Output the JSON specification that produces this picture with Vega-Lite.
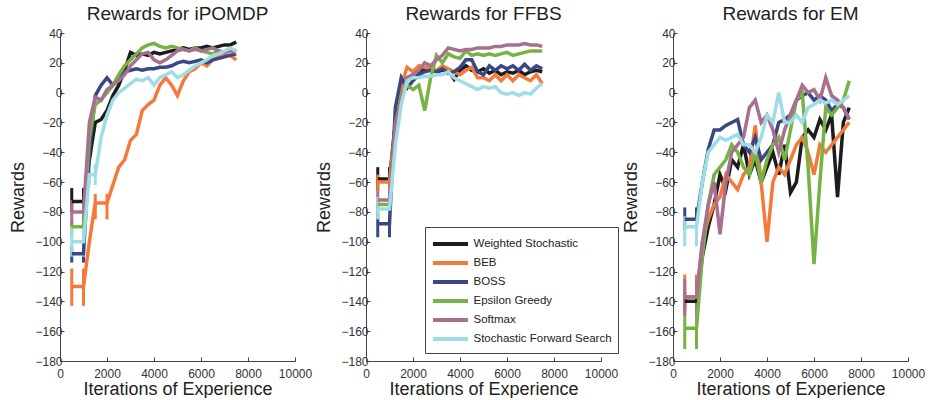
{
"$schema":"https://vega.github.io/schema/vega-lite/v6.json",
"background":"white",
"padding":{"left":9,"right":5,"top":5,"bottom":0},
"config":{
 "view":{"stroke":null},
 "font":"Liberation Sans",
 "title":{"font":"Liberation Sans","fontSize":19,"fontWeight":"normal","color":"#222","offset":3},
 "axis":{"grid":false,"domainColor":"#444","tickColor":"#444","labelColor":"#333","labelFont":"Liberation Sans","labelFontSize":12,"titleFont":"Liberation Sans","titleFontSize":18,"titleFontWeight":"normal","titleColor":"#222","tickSize":-4,"labelOverlap":false},
 "axisY":{"labelPadding":2,"titlePadding":7},
 "axisX":{"labelPadding":11,"titlePadding":1,"format":"d"},
 "legend":{"labelFont":"Liberation Sans","labelFontSize":11.5,"labelColor":"#222"}
},
"datasets":{
"pts":[
{"p":"i","s":"WS","x":500,"y":-73},{"p":"i","s":"WS","x":1000,"y":-73},{"p":"i","s":"WS","x":1250,"y":-45},{"p":"i","s":"WS","x":1500,"y":-20},{"p":"i","s":"WS","x":1750,"y":-18},{"p":"i","s":"WS","x":2000,"y":-12},{"p":"i","s":"WS","x":2250,"y":-2},{"p":"i","s":"WS","x":2500,"y":5},{"p":"i","s":"WS","x":2750,"y":15},{"p":"i","s":"WS","x":3000,"y":27},{"p":"i","s":"WS","x":3250,"y":25},{"p":"i","s":"WS","x":3500,"y":26},{"p":"i","s":"WS","x":3750,"y":25},{"p":"i","s":"WS","x":4000,"y":27},{"p":"i","s":"WS","x":4250,"y":26},{"p":"i","s":"WS","x":4500,"y":27},{"p":"i","s":"WS","x":4750,"y":28},{"p":"i","s":"WS","x":5000,"y":29},{"p":"i","s":"WS","x":5250,"y":30},{"p":"i","s":"WS","x":5500,"y":29},{"p":"i","s":"WS","x":5750,"y":30},{"p":"i","s":"WS","x":6000,"y":30},{"p":"i","s":"WS","x":6250,"y":31},{"p":"i","s":"WS","x":6500,"y":30},{"p":"i","s":"WS","x":6750,"y":31},{"p":"i","s":"WS","x":7000,"y":32},{"p":"i","s":"WS","x":7250,"y":32},{"p":"i","s":"WS","x":7500,"y":34},
{"p":"i","s":"BEB","x":500,"y":-130},{"p":"i","s":"BEB","x":1000,"y":-130},{"p":"i","s":"BEB","x":1250,"y":-100},{"p":"i","s":"BEB","x":1500,"y":-74},{"p":"i","s":"BEB","x":1750,"y":-74},{"p":"i","s":"BEB","x":2000,"y":-74},{"p":"i","s":"BEB","x":2250,"y":-62},{"p":"i","s":"BEB","x":2500,"y":-50},{"p":"i","s":"BEB","x":2750,"y":-45},{"p":"i","s":"BEB","x":3000,"y":-32},{"p":"i","s":"BEB","x":3250,"y":-28},{"p":"i","s":"BEB","x":3500,"y":-12},{"p":"i","s":"BEB","x":3750,"y":-8},{"p":"i","s":"BEB","x":4000,"y":-5},{"p":"i","s":"BEB","x":4250,"y":5},{"p":"i","s":"BEB","x":4500,"y":10},{"p":"i","s":"BEB","x":4750,"y":5},{"p":"i","s":"BEB","x":5000,"y":-2},{"p":"i","s":"BEB","x":5250,"y":8},{"p":"i","s":"BEB","x":5500,"y":14},{"p":"i","s":"BEB","x":5750,"y":16},{"p":"i","s":"BEB","x":6000,"y":20},{"p":"i","s":"BEB","x":6250,"y":18},{"p":"i","s":"BEB","x":6500,"y":22},{"p":"i","s":"BEB","x":6750,"y":24},{"p":"i","s":"BEB","x":7000,"y":25},{"p":"i","s":"BEB","x":7250,"y":25},{"p":"i","s":"BEB","x":7500,"y":22},
{"p":"i","s":"BOSS","x":500,"y":-108},{"p":"i","s":"BOSS","x":1000,"y":-108},{"p":"i","s":"BOSS","x":1250,"y":-40},{"p":"i","s":"BOSS","x":1500,"y":-2},{"p":"i","s":"BOSS","x":1750,"y":5},{"p":"i","s":"BOSS","x":2000,"y":10},{"p":"i","s":"BOSS","x":2250,"y":5},{"p":"i","s":"BOSS","x":2500,"y":10},{"p":"i","s":"BOSS","x":2750,"y":14},{"p":"i","s":"BOSS","x":3000,"y":15},{"p":"i","s":"BOSS","x":3250,"y":16},{"p":"i","s":"BOSS","x":3500,"y":15},{"p":"i","s":"BOSS","x":3750,"y":16},{"p":"i","s":"BOSS","x":4000,"y":16},{"p":"i","s":"BOSS","x":4250,"y":17},{"p":"i","s":"BOSS","x":4500,"y":17},{"p":"i","s":"BOSS","x":4750,"y":18},{"p":"i","s":"BOSS","x":5000,"y":20},{"p":"i","s":"BOSS","x":5250,"y":21},{"p":"i","s":"BOSS","x":5500,"y":20},{"p":"i","s":"BOSS","x":5750,"y":21},{"p":"i","s":"BOSS","x":6000,"y":22},{"p":"i","s":"BOSS","x":6250,"y":20},{"p":"i","s":"BOSS","x":6500,"y":22},{"p":"i","s":"BOSS","x":6750,"y":23},{"p":"i","s":"BOSS","x":7000,"y":24},{"p":"i","s":"BOSS","x":7250,"y":25},{"p":"i","s":"BOSS","x":7500,"y":26},
{"p":"i","s":"EG","x":500,"y":-90},{"p":"i","s":"EG","x":1000,"y":-90},{"p":"i","s":"EG","x":1250,"y":-30},{"p":"i","s":"EG","x":1500,"y":-8},{"p":"i","s":"EG","x":1750,"y":-5},{"p":"i","s":"EG","x":2000,"y":0},{"p":"i","s":"EG","x":2250,"y":5},{"p":"i","s":"EG","x":2500,"y":12},{"p":"i","s":"EG","x":2750,"y":18},{"p":"i","s":"EG","x":3000,"y":22},{"p":"i","s":"EG","x":3250,"y":26},{"p":"i","s":"EG","x":3500,"y":30},{"p":"i","s":"EG","x":3750,"y":32},{"p":"i","s":"EG","x":4000,"y":33},{"p":"i","s":"EG","x":4250,"y":31},{"p":"i","s":"EG","x":4500,"y":30},{"p":"i","s":"EG","x":4750,"y":31},{"p":"i","s":"EG","x":5000,"y":30},{"p":"i","s":"EG","x":5250,"y":29},{"p":"i","s":"EG","x":5500,"y":28},{"p":"i","s":"EG","x":5750,"y":30},{"p":"i","s":"EG","x":6000,"y":28},{"p":"i","s":"EG","x":6250,"y":27},{"p":"i","s":"EG","x":6500,"y":26},{"p":"i","s":"EG","x":6750,"y":28},{"p":"i","s":"EG","x":7000,"y":27},{"p":"i","s":"EG","x":7250,"y":29},{"p":"i","s":"EG","x":7500,"y":28},
{"p":"i","s":"SM","x":500,"y":-80},{"p":"i","s":"SM","x":1000,"y":-80},{"p":"i","s":"SM","x":1250,"y":-20},{"p":"i","s":"SM","x":1500,"y":-3},{"p":"i","s":"SM","x":1750,"y":-5},{"p":"i","s":"SM","x":2000,"y":2},{"p":"i","s":"SM","x":2250,"y":5},{"p":"i","s":"SM","x":2500,"y":8},{"p":"i","s":"SM","x":2750,"y":12},{"p":"i","s":"SM","x":3000,"y":18},{"p":"i","s":"SM","x":3250,"y":22},{"p":"i","s":"SM","x":3500,"y":26},{"p":"i","s":"SM","x":3750,"y":27},{"p":"i","s":"SM","x":4000,"y":22},{"p":"i","s":"SM","x":4250,"y":20},{"p":"i","s":"SM","x":4500,"y":22},{"p":"i","s":"SM","x":4750,"y":25},{"p":"i","s":"SM","x":5000,"y":28},{"p":"i","s":"SM","x":5250,"y":29},{"p":"i","s":"SM","x":5500,"y":28},{"p":"i","s":"SM","x":5750,"y":29},{"p":"i","s":"SM","x":6000,"y":28},{"p":"i","s":"SM","x":6250,"y":29},{"p":"i","s":"SM","x":6500,"y":30},{"p":"i","s":"SM","x":6750,"y":28},{"p":"i","s":"SM","x":7000,"y":27},{"p":"i","s":"SM","x":7250,"y":28},{"p":"i","s":"SM","x":7500,"y":27},
{"p":"i","s":"SFS","x":500,"y":-100},{"p":"i","s":"SFS","x":1000,"y":-100},{"p":"i","s":"SFS","x":1250,"y":-55},{"p":"i","s":"SFS","x":1500,"y":-55},{"p":"i","s":"SFS","x":1750,"y":-30},{"p":"i","s":"SFS","x":2000,"y":-15},{"p":"i","s":"SFS","x":2250,"y":-5},{"p":"i","s":"SFS","x":2500,"y":0},{"p":"i","s":"SFS","x":2750,"y":3},{"p":"i","s":"SFS","x":3000,"y":6},{"p":"i","s":"SFS","x":3250,"y":9},{"p":"i","s":"SFS","x":3500,"y":8},{"p":"i","s":"SFS","x":3750,"y":10},{"p":"i","s":"SFS","x":4000,"y":5},{"p":"i","s":"SFS","x":4250,"y":10},{"p":"i","s":"SFS","x":4500,"y":12},{"p":"i","s":"SFS","x":4750,"y":14},{"p":"i","s":"SFS","x":5000,"y":10},{"p":"i","s":"SFS","x":5250,"y":12},{"p":"i","s":"SFS","x":5500,"y":15},{"p":"i","s":"SFS","x":5750,"y":18},{"p":"i","s":"SFS","x":6000,"y":20},{"p":"i","s":"SFS","x":6250,"y":22},{"p":"i","s":"SFS","x":6500,"y":25},{"p":"i","s":"SFS","x":6750,"y":26},{"p":"i","s":"SFS","x":7000,"y":28},{"p":"i","s":"SFS","x":7250,"y":30},{"p":"i","s":"SFS","x":7500,"y":28},
{"p":"f","s":"WS","x":500,"y":-58},{"p":"f","s":"WS","x":1000,"y":-58},{"p":"f","s":"WS","x":1250,"y":-20},{"p":"f","s":"WS","x":1500,"y":8},{"p":"f","s":"WS","x":1750,"y":10},{"p":"f","s":"WS","x":2000,"y":12},{"p":"f","s":"WS","x":2250,"y":14},{"p":"f","s":"WS","x":2500,"y":16},{"p":"f","s":"WS","x":2750,"y":15},{"p":"f","s":"WS","x":3000,"y":14},{"p":"f","s":"WS","x":3250,"y":15},{"p":"f","s":"WS","x":3500,"y":15},{"p":"f","s":"WS","x":3750,"y":9},{"p":"f","s":"WS","x":4000,"y":15},{"p":"f","s":"WS","x":4250,"y":18},{"p":"f","s":"WS","x":4500,"y":15},{"p":"f","s":"WS","x":4750,"y":14},{"p":"f","s":"WS","x":5000,"y":16},{"p":"f","s":"WS","x":5250,"y":13},{"p":"f","s":"WS","x":5500,"y":15},{"p":"f","s":"WS","x":5750,"y":12},{"p":"f","s":"WS","x":6000,"y":14},{"p":"f","s":"WS","x":6250,"y":13},{"p":"f","s":"WS","x":6500,"y":15},{"p":"f","s":"WS","x":6750,"y":12},{"p":"f","s":"WS","x":7000,"y":14},{"p":"f","s":"WS","x":7250,"y":15},{"p":"f","s":"WS","x":7500,"y":14},
{"p":"f","s":"BEB","x":500,"y":-60},{"p":"f","s":"BEB","x":1000,"y":-60},{"p":"f","s":"BEB","x":1250,"y":-20},{"p":"f","s":"BEB","x":1500,"y":5},{"p":"f","s":"BEB","x":1750,"y":17},{"p":"f","s":"BEB","x":2000,"y":14},{"p":"f","s":"BEB","x":2250,"y":18},{"p":"f","s":"BEB","x":2500,"y":17},{"p":"f","s":"BEB","x":2750,"y":16},{"p":"f","s":"BEB","x":3000,"y":15},{"p":"f","s":"BEB","x":3250,"y":18},{"p":"f","s":"BEB","x":3500,"y":16},{"p":"f","s":"BEB","x":3750,"y":14},{"p":"f","s":"BEB","x":4000,"y":12},{"p":"f","s":"BEB","x":4250,"y":15},{"p":"f","s":"BEB","x":4500,"y":17},{"p":"f","s":"BEB","x":4750,"y":10},{"p":"f","s":"BEB","x":5000,"y":10},{"p":"f","s":"BEB","x":5250,"y":8},{"p":"f","s":"BEB","x":5500,"y":12},{"p":"f","s":"BEB","x":5750,"y":8},{"p":"f","s":"BEB","x":6000,"y":12},{"p":"f","s":"BEB","x":6250,"y":8},{"p":"f","s":"BEB","x":6500,"y":12},{"p":"f","s":"BEB","x":6750,"y":10},{"p":"f","s":"BEB","x":7000,"y":8},{"p":"f","s":"BEB","x":7250,"y":12},{"p":"f","s":"BEB","x":7500,"y":6},
{"p":"f","s":"BOSS","x":500,"y":-88},{"p":"f","s":"BOSS","x":1000,"y":-88},{"p":"f","s":"BOSS","x":1250,"y":-10},{"p":"f","s":"BOSS","x":1500,"y":10},{"p":"f","s":"BOSS","x":1750,"y":3},{"p":"f","s":"BOSS","x":2000,"y":8},{"p":"f","s":"BOSS","x":2250,"y":12},{"p":"f","s":"BOSS","x":2500,"y":14},{"p":"f","s":"BOSS","x":2750,"y":15},{"p":"f","s":"BOSS","x":3000,"y":14},{"p":"f","s":"BOSS","x":3250,"y":16},{"p":"f","s":"BOSS","x":3500,"y":13},{"p":"f","s":"BOSS","x":3750,"y":14},{"p":"f","s":"BOSS","x":4000,"y":17},{"p":"f","s":"BOSS","x":4250,"y":22},{"p":"f","s":"BOSS","x":4500,"y":22},{"p":"f","s":"BOSS","x":4750,"y":14},{"p":"f","s":"BOSS","x":5000,"y":12},{"p":"f","s":"BOSS","x":5250,"y":18},{"p":"f","s":"BOSS","x":5500,"y":15},{"p":"f","s":"BOSS","x":5750,"y":18},{"p":"f","s":"BOSS","x":6000,"y":16},{"p":"f","s":"BOSS","x":6250,"y":18},{"p":"f","s":"BOSS","x":6500,"y":15},{"p":"f","s":"BOSS","x":6750,"y":19},{"p":"f","s":"BOSS","x":7000,"y":15},{"p":"f","s":"BOSS","x":7250,"y":18},{"p":"f","s":"BOSS","x":7500,"y":16},
{"p":"f","s":"EG","x":500,"y":-75},{"p":"f","s":"EG","x":1000,"y":-75},{"p":"f","s":"EG","x":1250,"y":-25},{"p":"f","s":"EG","x":1500,"y":-2},{"p":"f","s":"EG","x":1750,"y":5},{"p":"f","s":"EG","x":2000,"y":2},{"p":"f","s":"EG","x":2250,"y":5},{"p":"f","s":"EG","x":2500,"y":-12},{"p":"f","s":"EG","x":2750,"y":10},{"p":"f","s":"EG","x":3000,"y":25},{"p":"f","s":"EG","x":3250,"y":20},{"p":"f","s":"EG","x":3500,"y":26},{"p":"f","s":"EG","x":3750,"y":24},{"p":"f","s":"EG","x":4000,"y":23},{"p":"f","s":"EG","x":4250,"y":28},{"p":"f","s":"EG","x":4500,"y":25},{"p":"f","s":"EG","x":4750,"y":26},{"p":"f","s":"EG","x":5000,"y":25},{"p":"f","s":"EG","x":5250,"y":26},{"p":"f","s":"EG","x":5500,"y":25},{"p":"f","s":"EG","x":5750,"y":26},{"p":"f","s":"EG","x":6000,"y":27},{"p":"f","s":"EG","x":6250,"y":25},{"p":"f","s":"EG","x":6500,"y":26},{"p":"f","s":"EG","x":6750,"y":27},{"p":"f","s":"EG","x":7000,"y":28},{"p":"f","s":"EG","x":7250,"y":28},{"p":"f","s":"EG","x":7500,"y":28},
{"p":"f","s":"SM","x":500,"y":-72},{"p":"f","s":"SM","x":1000,"y":-72},{"p":"f","s":"SM","x":1250,"y":-20},{"p":"f","s":"SM","x":1500,"y":-5},{"p":"f","s":"SM","x":1750,"y":10},{"p":"f","s":"SM","x":2000,"y":12},{"p":"f","s":"SM","x":2250,"y":15},{"p":"f","s":"SM","x":2500,"y":20},{"p":"f","s":"SM","x":2750,"y":18},{"p":"f","s":"SM","x":3000,"y":22},{"p":"f","s":"SM","x":3250,"y":25},{"p":"f","s":"SM","x":3500,"y":30},{"p":"f","s":"SM","x":3750,"y":29},{"p":"f","s":"SM","x":4000,"y":28},{"p":"f","s":"SM","x":4250,"y":29},{"p":"f","s":"SM","x":4500,"y":29},{"p":"f","s":"SM","x":4750,"y":30},{"p":"f","s":"SM","x":5000,"y":30},{"p":"f","s":"SM","x":5250,"y":30},{"p":"f","s":"SM","x":5500,"y":31},{"p":"f","s":"SM","x":5750,"y":31},{"p":"f","s":"SM","x":6000,"y":32},{"p":"f","s":"SM","x":6250,"y":32},{"p":"f","s":"SM","x":6500,"y":32},{"p":"f","s":"SM","x":6750,"y":33},{"p":"f","s":"SM","x":7000,"y":32},{"p":"f","s":"SM","x":7250,"y":32},{"p":"f","s":"SM","x":7500,"y":31},
{"p":"f","s":"SFS","x":500,"y":-78},{"p":"f","s":"SFS","x":1000,"y":-78},{"p":"f","s":"SFS","x":1250,"y":-35},{"p":"f","s":"SFS","x":1500,"y":-8},{"p":"f","s":"SFS","x":1750,"y":8},{"p":"f","s":"SFS","x":2000,"y":10},{"p":"f","s":"SFS","x":2250,"y":10},{"p":"f","s":"SFS","x":2500,"y":11},{"p":"f","s":"SFS","x":2750,"y":11},{"p":"f","s":"SFS","x":3000,"y":12},{"p":"f","s":"SFS","x":3250,"y":12},{"p":"f","s":"SFS","x":3500,"y":14},{"p":"f","s":"SFS","x":3750,"y":10},{"p":"f","s":"SFS","x":4000,"y":8},{"p":"f","s":"SFS","x":4250,"y":6},{"p":"f","s":"SFS","x":4500,"y":4},{"p":"f","s":"SFS","x":4750,"y":2},{"p":"f","s":"SFS","x":5000,"y":4},{"p":"f","s":"SFS","x":5250,"y":3},{"p":"f","s":"SFS","x":5500,"y":4},{"p":"f","s":"SFS","x":5750,"y":0},{"p":"f","s":"SFS","x":6000,"y":-1},{"p":"f","s":"SFS","x":6250,"y":0},{"p":"f","s":"SFS","x":6500,"y":-2},{"p":"f","s":"SFS","x":6750,"y":0},{"p":"f","s":"SFS","x":7000,"y":-1},{"p":"f","s":"SFS","x":7250,"y":3},{"p":"f","s":"SFS","x":7500,"y":6},
{"p":"e","s":"WS","x":500,"y":-140},{"p":"e","s":"WS","x":1000,"y":-140},{"p":"e","s":"WS","x":1250,"y":-110},{"p":"e","s":"WS","x":1500,"y":-90},{"p":"e","s":"WS","x":1750,"y":-75},{"p":"e","s":"WS","x":2000,"y":-55},{"p":"e","s":"WS","x":2250,"y":-65},{"p":"e","s":"WS","x":2500,"y":-45},{"p":"e","s":"WS","x":2750,"y":-50},{"p":"e","s":"WS","x":3000,"y":-35},{"p":"e","s":"WS","x":3250,"y":-55},{"p":"e","s":"WS","x":3500,"y":-45},{"p":"e","s":"WS","x":3750,"y":-60},{"p":"e","s":"WS","x":4000,"y":-50},{"p":"e","s":"WS","x":4250,"y":-40},{"p":"e","s":"WS","x":4500,"y":-55},{"p":"e","s":"WS","x":4750,"y":-35},{"p":"e","s":"WS","x":5000,"y":-67},{"p":"e","s":"WS","x":5250,"y":-60},{"p":"e","s":"WS","x":5500,"y":-30},{"p":"e","s":"WS","x":5750,"y":-25},{"p":"e","s":"WS","x":6000,"y":-30},{"p":"e","s":"WS","x":6250,"y":-18},{"p":"e","s":"WS","x":6500,"y":-25},{"p":"e","s":"WS","x":6750,"y":-15},{"p":"e","s":"WS","x":7000,"y":-70},{"p":"e","s":"WS","x":7250,"y":-20},{"p":"e","s":"WS","x":7500,"y":-10},
{"p":"e","s":"BEB","x":500,"y":-137},{"p":"e","s":"BEB","x":1000,"y":-137},{"p":"e","s":"BEB","x":1250,"y":-100},{"p":"e","s":"BEB","x":1500,"y":-85},{"p":"e","s":"BEB","x":1750,"y":-75},{"p":"e","s":"BEB","x":2000,"y":-70},{"p":"e","s":"BEB","x":2250,"y":-55},{"p":"e","s":"BEB","x":2500,"y":-60},{"p":"e","s":"BEB","x":2750,"y":-65},{"p":"e","s":"BEB","x":3000,"y":-55},{"p":"e","s":"BEB","x":3250,"y":-50},{"p":"e","s":"BEB","x":3500,"y":-22},{"p":"e","s":"BEB","x":3750,"y":-60},{"p":"e","s":"BEB","x":4000,"y":-100},{"p":"e","s":"BEB","x":4250,"y":-60},{"p":"e","s":"BEB","x":4500,"y":-50},{"p":"e","s":"BEB","x":4750,"y":-55},{"p":"e","s":"BEB","x":5000,"y":-45},{"p":"e","s":"BEB","x":5250,"y":-35},{"p":"e","s":"BEB","x":5500,"y":-30},{"p":"e","s":"BEB","x":5750,"y":-40},{"p":"e","s":"BEB","x":6000,"y":-55},{"p":"e","s":"BEB","x":6250,"y":-35},{"p":"e","s":"BEB","x":6500,"y":-40},{"p":"e","s":"BEB","x":6750,"y":-35},{"p":"e","s":"BEB","x":7000,"y":-30},{"p":"e","s":"BEB","x":7250,"y":-25},{"p":"e","s":"BEB","x":7500,"y":-20},
{"p":"e","s":"BOSS","x":500,"y":-85},{"p":"e","s":"BOSS","x":1000,"y":-85},{"p":"e","s":"BOSS","x":1250,"y":-60},{"p":"e","s":"BOSS","x":1500,"y":-38},{"p":"e","s":"BOSS","x":1750,"y":-25},{"p":"e","s":"BOSS","x":2000,"y":-25},{"p":"e","s":"BOSS","x":2250,"y":-22},{"p":"e","s":"BOSS","x":2500,"y":-20},{"p":"e","s":"BOSS","x":2750,"y":-18},{"p":"e","s":"BOSS","x":3000,"y":-35},{"p":"e","s":"BOSS","x":3250,"y":-40},{"p":"e","s":"BOSS","x":3500,"y":-30},{"p":"e","s":"BOSS","x":3750,"y":-45},{"p":"e","s":"BOSS","x":4000,"y":-40},{"p":"e","s":"BOSS","x":4250,"y":-35},{"p":"e","s":"BOSS","x":4500,"y":-20},{"p":"e","s":"BOSS","x":4750,"y":-18},{"p":"e","s":"BOSS","x":5000,"y":-15},{"p":"e","s":"BOSS","x":5250,"y":-5},{"p":"e","s":"BOSS","x":5500,"y":-2},{"p":"e","s":"BOSS","x":5750,"y":0},{"p":"e","s":"BOSS","x":6000,"y":-5},{"p":"e","s":"BOSS","x":6250,"y":-2},{"p":"e","s":"BOSS","x":6500,"y":-5},{"p":"e","s":"BOSS","x":6750,"y":-12},{"p":"e","s":"BOSS","x":7000,"y":-8},{"p":"e","s":"BOSS","x":7250,"y":-10},{"p":"e","s":"BOSS","x":7500,"y":-18},
{"p":"e","s":"EG","x":500,"y":-158},{"p":"e","s":"EG","x":1000,"y":-158},{"p":"e","s":"EG","x":1250,"y":-110},{"p":"e","s":"EG","x":1500,"y":-75},{"p":"e","s":"EG","x":1750,"y":-55},{"p":"e","s":"EG","x":2000,"y":-50},{"p":"e","s":"EG","x":2250,"y":-45},{"p":"e","s":"EG","x":2500,"y":-35},{"p":"e","s":"EG","x":2750,"y":-40},{"p":"e","s":"EG","x":3000,"y":-50},{"p":"e","s":"EG","x":3250,"y":-55},{"p":"e","s":"EG","x":3500,"y":-40},{"p":"e","s":"EG","x":3750,"y":-60},{"p":"e","s":"EG","x":4000,"y":-45},{"p":"e","s":"EG","x":4250,"y":-35},{"p":"e","s":"EG","x":4500,"y":-30},{"p":"e","s":"EG","x":4750,"y":-45},{"p":"e","s":"EG","x":5000,"y":-25},{"p":"e","s":"EG","x":5250,"y":-5},{"p":"e","s":"EG","x":5500,"y":0},{"p":"e","s":"EG","x":5750,"y":-50},{"p":"e","s":"EG","x":6000,"y":-115},{"p":"e","s":"EG","x":6250,"y":-60},{"p":"e","s":"EG","x":6500,"y":-10},{"p":"e","s":"EG","x":6750,"y":-15},{"p":"e","s":"EG","x":7000,"y":-10},{"p":"e","s":"EG","x":7250,"y":-5},{"p":"e","s":"EG","x":7500,"y":8},
{"p":"e","s":"SM","x":500,"y":-137},{"p":"e","s":"SM","x":1000,"y":-137},{"p":"e","s":"SM","x":1250,"y":-100},{"p":"e","s":"SM","x":1500,"y":-75},{"p":"e","s":"SM","x":1750,"y":-60},{"p":"e","s":"SM","x":2000,"y":-95},{"p":"e","s":"SM","x":2250,"y":-60},{"p":"e","s":"SM","x":2500,"y":-40},{"p":"e","s":"SM","x":2750,"y":-35},{"p":"e","s":"SM","x":3000,"y":-30},{"p":"e","s":"SM","x":3250,"y":-10},{"p":"e","s":"SM","x":3500,"y":-5},{"p":"e","s":"SM","x":3750,"y":-20},{"p":"e","s":"SM","x":4000,"y":-15},{"p":"e","s":"SM","x":4250,"y":-25},{"p":"e","s":"SM","x":4500,"y":-40},{"p":"e","s":"SM","x":4750,"y":-25},{"p":"e","s":"SM","x":5000,"y":-15},{"p":"e","s":"SM","x":5250,"y":-5},{"p":"e","s":"SM","x":5500,"y":5},{"p":"e","s":"SM","x":5750,"y":0},{"p":"e","s":"SM","x":6000,"y":2},{"p":"e","s":"SM","x":6250,"y":-5},{"p":"e","s":"SM","x":6500,"y":10},{"p":"e","s":"SM","x":6750,"y":-2},{"p":"e","s":"SM","x":7000,"y":-5},{"p":"e","s":"SM","x":7250,"y":-10},{"p":"e","s":"SM","x":7500,"y":-18},
{"p":"e","s":"SFS","x":500,"y":-90},{"p":"e","s":"SFS","x":1000,"y":-90},{"p":"e","s":"SFS","x":1250,"y":-60},{"p":"e","s":"SFS","x":1500,"y":-40},{"p":"e","s":"SFS","x":1750,"y":-35},{"p":"e","s":"SFS","x":2000,"y":-30},{"p":"e","s":"SFS","x":2250,"y":-32},{"p":"e","s":"SFS","x":2500,"y":-30},{"p":"e","s":"SFS","x":2750,"y":-28},{"p":"e","s":"SFS","x":3000,"y":-35},{"p":"e","s":"SFS","x":3250,"y":-35},{"p":"e","s":"SFS","x":3500,"y":-40},{"p":"e","s":"SFS","x":3750,"y":-30},{"p":"e","s":"SFS","x":4000,"y":-15},{"p":"e","s":"SFS","x":4250,"y":-20},{"p":"e","s":"SFS","x":4500,"y":0},{"p":"e","s":"SFS","x":4750,"y":-20},{"p":"e","s":"SFS","x":5000,"y":-20},{"p":"e","s":"SFS","x":5250,"y":-15},{"p":"e","s":"SFS","x":5500,"y":-20},{"p":"e","s":"SFS","x":5750,"y":-10},{"p":"e","s":"SFS","x":6000,"y":-8},{"p":"e","s":"SFS","x":6250,"y":-5},{"p":"e","s":"SFS","x":6500,"y":-7},{"p":"e","s":"SFS","x":6750,"y":-5},{"p":"e","s":"SFS","x":7000,"y":-8},{"p":"e","s":"SFS","x":7250,"y":-5},{"p":"e","s":"SFS","x":7500,"y":-2}
],
"err":[
{"p":"i","s":"WS","x":500,"lo":-80,"hi":-64},{"p":"i","s":"WS","x":1000,"lo":-80,"hi":-64},
{"p":"i","s":"BEB","x":500,"lo":-143,"hi":-118},{"p":"i","s":"BEB","x":1000,"lo":-143,"hi":-118},{"p":"i","s":"BEB","x":1500,"lo":-85,"hi":-68},{"p":"i","s":"BEB","x":2000,"lo":-85,"hi":-68},
{"p":"i","s":"BOSS","x":500,"lo":-114,"hi":-103},{"p":"i","s":"BOSS","x":1000,"lo":-114,"hi":-103},
{"p":"i","s":"EG","x":500,"lo":-97,"hi":-86},{"p":"i","s":"EG","x":1000,"lo":-97,"hi":-86},
{"p":"i","s":"SM","x":500,"lo":-89,"hi":-72},{"p":"i","s":"SM","x":1000,"lo":-89,"hi":-72},
{"p":"i","s":"SFS","x":500,"lo":-110,"hi":-90},{"p":"i","s":"SFS","x":1000,"lo":-110,"hi":-90},{"p":"i","s":"SFS","x":1250,"lo":-62,"hi":-48},{"p":"i","s":"SFS","x":1500,"lo":-62,"hi":-48},
{"p":"f","s":"WS","x":500,"lo":-66,"hi":-50},{"p":"f","s":"WS","x":1000,"lo":-66,"hi":-50},
{"p":"f","s":"BEB","x":500,"lo":-66,"hi":-55},{"p":"f","s":"BEB","x":1000,"lo":-66,"hi":-55},
{"p":"f","s":"BOSS","x":500,"lo":-97,"hi":-80},{"p":"f","s":"BOSS","x":1000,"lo":-97,"hi":-80},
{"p":"f","s":"EG","x":500,"lo":-80,"hi":-70},{"p":"f","s":"EG","x":1000,"lo":-80,"hi":-70},
{"p":"f","s":"SM","x":500,"lo":-78,"hi":-66},{"p":"f","s":"SM","x":1000,"lo":-78,"hi":-66},
{"p":"f","s":"SFS","x":500,"lo":-85,"hi":-70},{"p":"f","s":"SFS","x":1000,"lo":-85,"hi":-70},
{"p":"e","s":"WS","x":500,"lo":-146,"hi":-134},{"p":"e","s":"WS","x":1000,"lo":-146,"hi":-134},
{"p":"e","s":"BEB","x":500,"lo":-150,"hi":-122},{"p":"e","s":"BEB","x":1000,"lo":-150,"hi":-122},
{"p":"e","s":"BOSS","x":500,"lo":-92,"hi":-77},{"p":"e","s":"BOSS","x":1000,"lo":-92,"hi":-77},
{"p":"e","s":"EG","x":500,"lo":-172,"hi":-150},{"p":"e","s":"EG","x":1000,"lo":-172,"hi":-150},
{"p":"e","s":"SM","x":500,"lo":-150,"hi":-125},{"p":"e","s":"SM","x":1000,"lo":-150,"hi":-125},
{"p":"e","s":"SFS","x":500,"lo":-103,"hi":-83},{"p":"e","s":"SFS","x":1000,"lo":-103,"hi":-83}
]
},
"resolve":{"legend":{"color":"independent"}},
"spacing":3,
"hconcat":[
{"width":235,"height":328,"title":"Rewards for iPOMDP",
 "layer":[
  {"data":{"name":"err"},"transform":[{"filter":"datum.p=='i'"}],"mark":{"type":"rule","strokeWidth":3},
   "encoding":{"x":{"field":"x","type":"quantitative"},"y":{"field":"lo","type":"quantitative"},"y2":{"field":"hi"},"color":{"field":"s","type":"nominal","legend":null}}},
  {"data":{"name":"pts"},"transform":[{"filter":"datum.p=='i'"}],"mark":{"type":"line","strokeWidth":3.5},
   "encoding":{"x":{"field":"x","type":"quantitative","scale":{"domain":[0,10000]},"axis":{"title":"Iterations of Experience","values":[0,2000,4000,6000,8000,10000],"labelFlush":false,"labelOverlap":false}},
    "y":{"field":"y","type":"quantitative","scale":{"domain":[-180,40]},"axis":{"title":"Rewards","values":[-180,-160,-140,-120,-100,-80,-60,-40,-20,0,20,40],"tickCount":20,"labelOverlap":false}},
    "color":{"field":"s","type":"nominal","scale":{"domain":["WS","BEB","BOSS","EG","SM","SFS"],"range":["#1c1c1c","#f47a3a","#3a4785","#77b245","#a8708f","#9fdde6"]},"legend":null}}}
 ]},
{"width":235,"height":328,"title":"Rewards for FFBS",
 "layer":[
  {"data":{"name":"err"},"transform":[{"filter":"datum.p=='f'"}],"mark":{"type":"rule","strokeWidth":3},
   "encoding":{"x":{"field":"x","type":"quantitative"},"y":{"field":"lo","type":"quantitative"},"y2":{"field":"hi"},"color":{"field":"s","type":"nominal"}}},
  {"data":{"name":"pts"},"transform":[{"filter":"datum.p=='f'"}],"mark":{"type":"line","strokeWidth":3.5},
   "encoding":{"x":{"field":"x","type":"quantitative","scale":{"domain":[0,10000]},"axis":{"title":"Iterations of Experience","values":[0,2000,4000,6000,8000,10000],"labelFlush":false,"labelOverlap":false}},
    "y":{"field":"y","type":"quantitative","scale":{"domain":[-180,40]},"axis":{"title":"Rewards","values":[-180,-160,-140,-120,-100,-80,-60,-40,-20,0,20,40],"tickCount":20,"labelOverlap":false}},
    "color":{"field":"s","type":"nominal","scale":{"domain":["WS","BEB","BOSS","EG","SM","SFS"],"range":["#1c1c1c","#f47a3a","#3a4785","#77b245","#a8708f","#9fdde6"]},
     "legend":{"title":null,"orient":"none","legendX":59,"legendY":194,"symbolType":"M-1.95,0H1.95","symbolSize":324,"symbolStrokeWidth":4,"symbolOffset":8.5,"strokeColor":"#444","fillColor":"white","padding":6,"rowPadding":0,"labelOffset":12,
      "labelExpr":"{'WS':'Weighted Stochastic','BEB':'BEB','BOSS':'BOSS','EG':'Epsilon Greedy','SM':'Softmax','SFS':'Stochastic Forward Search'}[datum.label]"}}}}
 ]},
{"width":235,"height":328,"title":"Rewards for EM",
 "layer":[
  {"data":{"name":"err"},"transform":[{"filter":"datum.p=='e'"}],"mark":{"type":"rule","strokeWidth":3},
   "encoding":{"x":{"field":"x","type":"quantitative"},"y":{"field":"lo","type":"quantitative"},"y2":{"field":"hi"},"color":{"field":"s","type":"nominal","legend":null}}},
  {"data":{"name":"pts"},"transform":[{"filter":"datum.p=='e'"}],"mark":{"type":"line","strokeWidth":3.5},
   "encoding":{"x":{"field":"x","type":"quantitative","scale":{"domain":[0,10000]},"axis":{"title":"Iterations of Experience","values":[0,2000,4000,6000,8000,10000],"labelFlush":false,"labelOverlap":false}},
    "y":{"field":"y","type":"quantitative","scale":{"domain":[-180,40]},"axis":{"title":"Rewards","values":[-180,-160,-140,-120,-100,-80,-60,-40,-20,0,20,40],"tickCount":20,"labelOverlap":false}},
    "color":{"field":"s","type":"nominal","scale":{"domain":["WS","BEB","BOSS","EG","SM","SFS"],"range":["#1c1c1c","#f47a3a","#3a4785","#77b245","#a8708f","#9fdde6"]},"legend":null}}}
 ]}
]
}
